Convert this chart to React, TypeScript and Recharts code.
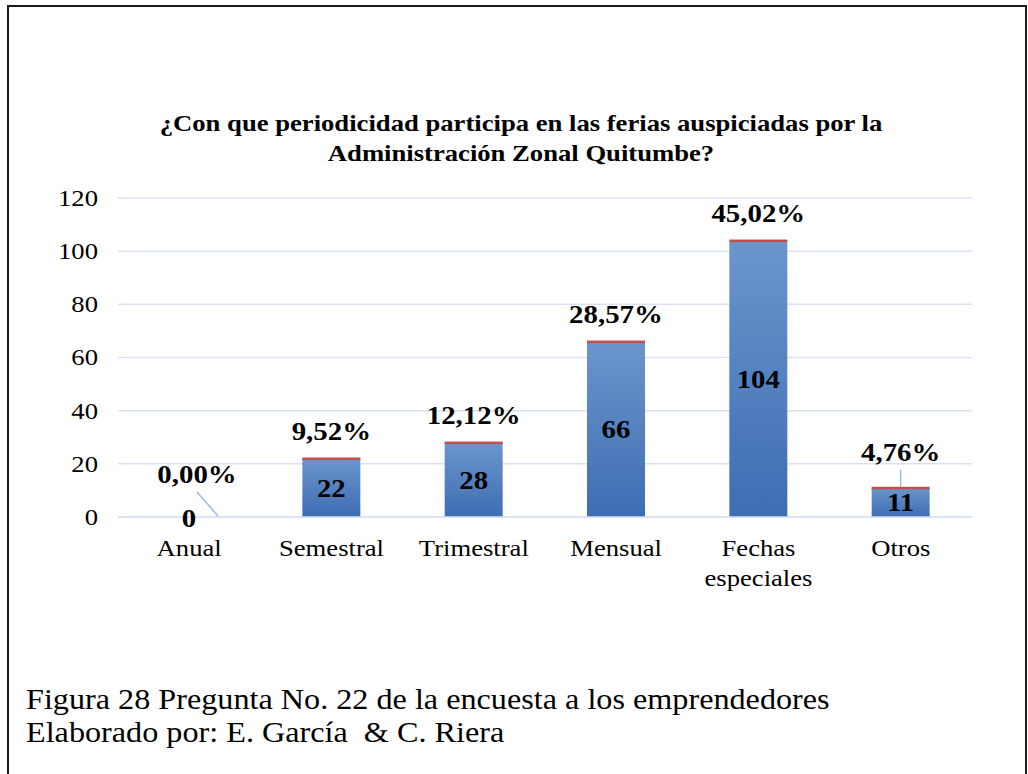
import React from "react";
import { BarChart, Bar, XAxis, YAxis, CartesianGrid, LabelList } from "recharts";

// Survey answers: frequency of participation in the fairs
const categories = ["Anual", "Semestral", "Trimestral", "Mensual", "Fechas especiales", "Otros"];
const counts = [0, 22, 28, 66, 104, 11];
const percents = [0, 9.52, 12.12, 28.57, 45.02, 4.76];
const yTicks = [0, 20, 40, 60, 80, 100, 120];

const data = categories.map((name, i) => ({
  name,
  count: counts[i],
  share: percents[i] / 100,
  pct: percents[i].toFixed(2).replace(".", ",") + "%",
}));

const SERIF = "'Liberation Serif', 'Times New Roman', serif";
const GRID = "#d9e2f3";
// the original export is a bit wider than tall, text included
const SX = 1.11;
const stretch = (x: number) => `translate(${x} 0) scale(${SX} 1) translate(${-x} 0)`;

// labels that sit on a leader line instead of right above the bar
const leaders: Record<string, { dx: number; lift: number; slant: number }> = {
  Anual: { dx: 8, lift: 43, slant: 21 },
  Otros: { dx: 0, lift: 36, slant: 0 },
};

const boldLabel = { fontSize: 26, fontWeight: "bold", fontFamily: SERIF, fill: "#000" } as const;

const CategoryTick = (props: any) => {
  const { x, y, payload } = props;
  const label: string = payload.value;
  const lines = label.length > 12 ? label.split(" ") : [label];
  return (
    <text x={x} y={y} textAnchor="middle" fontSize={24} fontFamily={SERIF} fill="#000" transform={stretch(x)}>
      {lines.map((l, i) => (
        <tspan key={i} x={x} dy={i === 0 ? 39 : 30}>
          {l}
        </tspan>
      ))}
    </text>
  );
};

const ValueTick = (props: any) => {
  const { x, y, payload } = props;
  return (
    <text x={x} y={y + 8} textAnchor="end" fontSize={24} fontFamily={SERIF} fill="#000" transform={stretch(x)}>
      {payload.value}
    </text>
  );
};

const CountLabel = (props: any) => {
  const { x, y, width, height, value } = props;
  const v = Array.isArray(value) ? value[1] - value[0] : value;
  if (!v) return null;
  const cx = x + width / 2;
  const cy = y + height / 2;
  return (
    <text x={cx} y={cy + 9} textAnchor="middle" {...boldLabel} transform={stretch(cx)}>
      {v}
    </text>
  );
};

// thin red cap: the percentage series stacked on top of the counts
const ShareCap = (props: any) => {
  const { x, y, width, height, payload } = props;
  if (!payload || payload.share <= 0) return null;
  const top = y + height;
  return <rect x={x} y={top - 1} width={width} height={2.5} fill="#c0504d" />;
};

const PctLabel = (props: any) => {
  const { x, y, width, height, index } = props;
  const row = data[index];
  const cx = x + width / 2;
  const barTop = y + height;
  const lead = leaders[row.name];
  if (lead) {
    const lx = cx + lead.dx;
    const ly = barTop - lead.lift;
    return (
      <g>
        <line x1={lx} y1={ly + 18} x2={lx + lead.slant} y2={barTop - 1} stroke="#9dbbe3" strokeWidth={1.5} />
        <text x={lx} y={ly + 9} textAnchor="middle" {...boldLabel} transform={stretch(lx)}>
          {row.pct}
        </text>
        {row.count === 0 && (
          <text x={cx} y={barTop + 10} textAnchor="middle" {...boldLabel} transform={stretch(cx)}>
            {row.count}
          </text>
        )}
      </g>
    );
  }
  return (
    <text x={cx} y={barTop - 19} textAnchor="middle" {...boldLabel} transform={stretch(cx)}>
      {row.pct}
    </text>
  );
};

export default function App() {
  return (
    <div style={{ fontFamily: SERIF }}>
      <div
        style={{
          position: "absolute",
          left: 7,
          top: 5,
          width: 1020,
          height: 769,
          boxSizing: "border-box",
          border: "2px solid #1a1a1a",
          borderBottom: "none",
        }}
      />
      <div
        style={{
          position: "absolute",
          left: 0,
          top: 108,
          width: 1042,
          textAlign: "center",
          fontFamily: SERIF,
          fontSize: 24,
          fontWeight: "bold",
          lineHeight: "30px",
          color: "#000",
          transform: `scaleX(${SX})`,
          transformOrigin: "521px 0",
        }}
      >
        ¿Con que periodicidad participa en las ferias auspiciadas por la
        <br />
        Administración Zonal Quitumbe?
      </div>
      <div style={{ position: "absolute", left: 0, top: 0 }}>
        <BarChart
          width={1028}
          height={774}
          data={data}
          margin={{ top: 198, right: 56, left: 58, bottom: 177 }}
        >
          <defs>
            <linearGradient id="barGrad" x1="0" y1="0" x2="0" y2="1">
              <stop offset="0%" stopColor="#6b95cc" />
              <stop offset="100%" stopColor="#3d6db3" />
            </linearGradient>
          </defs>
          <CartesianGrid vertical={false} stroke={GRID} strokeWidth={1.5} />
          <XAxis
            dataKey="name"
            height={80}
            interval={0}
            tickLine={false}
            tickSize={0}
            tickMargin={0}
            axisLine={{ stroke: GRID, strokeWidth: 1.5 }}
            tick={<CategoryTick />}
          />
          <YAxis
            width={60}
            domain={[0, 120]}
            ticks={yTicks}
            axisLine={false}
            tickLine={false}
            tickSize={0}
            tickMargin={20}
            tick={<ValueTick />}
          />
          <Bar dataKey="count" stackId="a" barSize={58} fill="url(#barGrad)" isAnimationActive={false}>
            <LabelList dataKey="count" content={<CountLabel />} />
          </Bar>
          <Bar dataKey="share" stackId="a" barSize={58} shape={<ShareCap />} isAnimationActive={false}>
            <LabelList dataKey="share" content={<PctLabel />} />
          </Bar>
        </BarChart>
      </div>
      <div
        style={{
          position: "absolute",
          left: 26,
          top: 683,
          fontFamily: SERIF,
          fontSize: 29,
          lineHeight: "33px",
          color: "#000",
          transform: `scaleX(${SX})`,
          transformOrigin: "0 0",
          whiteSpace: "nowrap",
        }}
      >
        Figura 28 Pregunta No. 22 de la encuesta a los emprendedores
        <br />
        Elaborado por: E. García &nbsp;&amp; C. Riera
      </div>
    </div>
  );
}
